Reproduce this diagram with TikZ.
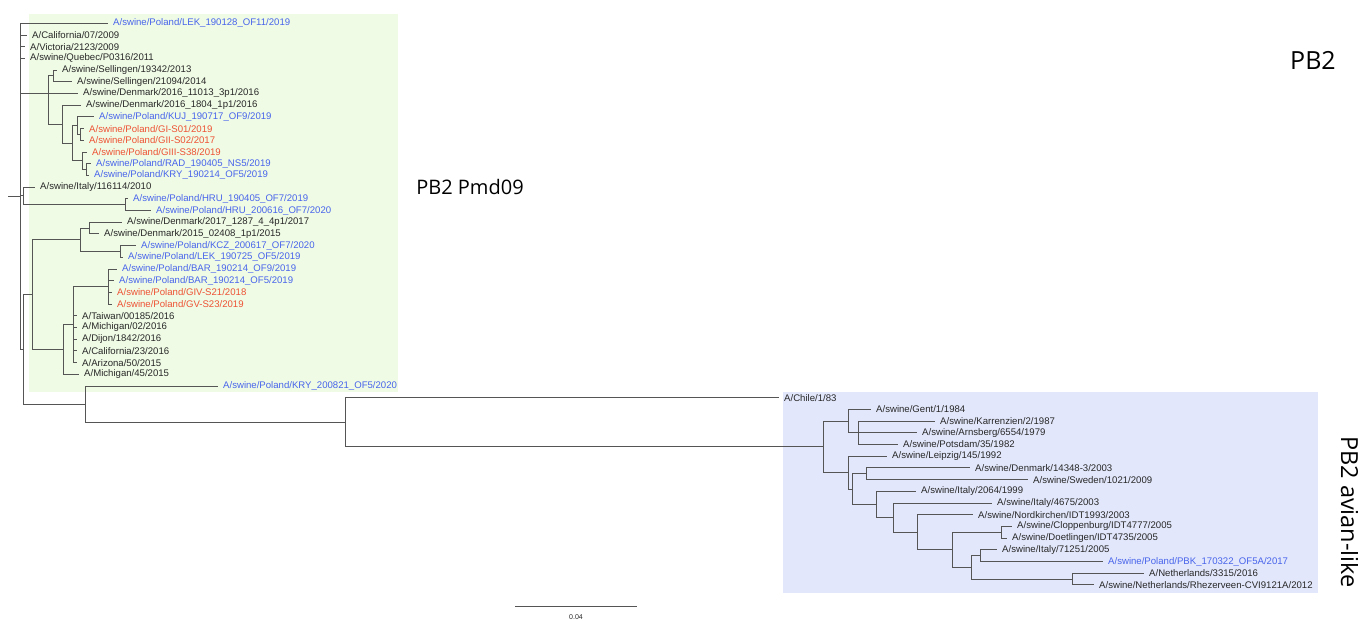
\documentclass[tikz,border=0pt]{standalone}
\usepackage{fontspec}
\setmainfont{Liberation Sans}
\newfontfamily\bigfont{Open Sans}
\definecolor{lgreen}{RGB}{239,251,229}
\definecolor{lblue}{RGB}{226,231,251}
\definecolor{tblue}{RGB}{72,100,235}
\definecolor{tred}{RGB}{238,82,52}
\definecolor{tline}{RGB}{85,85,85}
\definecolor{ttext}{RGB}{40,40,40}
\begin{document}
\begin{tikzpicture}[x=1pt,y=-1pt,
 leaf/.style={anchor=west, inner xsep=5pt, inner ysep=0pt, font=\fontsize{9.6}{10}\selectfont, text=ttext},
 pl/.style={leaf, text=tblue},
 rd/.style={leaf, text=tred},
 br/.style={draw=tline, line width=1pt},
 big/.style={font=\bigfont\fontsize{#1}{#1}\selectfont, text=black, inner sep=0pt}
]
\useasboundingbox (0,0) rectangle (1358,622);
\fill[lgreen] (29,14) rectangle (398,392);
\fill[lblue] (783,392) rectangle (1318,593);

% internal nodes
\coordinate (rs) at (8,196);
\coordinate (R) at (20,196);
\coordinate (C1) at (48,93.5);
\coordinate (S) at (53,75.95);
\coordinate (C2) at (62,124.2);
\coordinate (C3) at (72,143.2);
\coordinate (C4) at (77,125.7);
\coordinate (C6) at (80,134.45);
\coordinate (C5) at (82,160.8);
\coordinate (C7) at (86,169.55);
\coordinate (IH) at (23,195.9);
\coordinate (H) at (125,204.65);
\coordinate (Q) at (23,349.4);
\coordinate (D) at (32,294.6);
\coordinate (Dk) at (80,239.75);
\coordinate (DN) at (89,228.05);
\coordinate (KN) at (120,251.45);
\coordinate (M) at (63,349.4);
\coordinate (P) at (73,324.6);
\coordinate (B) at (108,286.5);
\coordinate (K) at (85,404.15);
\coordinate (A) at (345,422.3);
\coordinate (AV) at (823,446.9);
\coordinate (G1) at (848,421.1);
\coordinate (G1a) at (858,432.8);
\coordinate (G2) at (848,472.65);
\coordinate (G3) at (852,489.1);
\coordinate (DS) at (866,473.75);
\coordinate (G4) at (876,504.45);
\coordinate (G5) at (893.6,517.6);
\coordinate (G6) at (917.5,532.25);
\coordinate (G7) at (952,549.8);
\coordinate (CD) at (1001,532.25);
\coordinate (G8) at (971,567.35);
\coordinate (IP) at (980,555.65);
\coordinate (NR) at (1072,579.05);

% leaves
\node[pl] (l0) at (108,23.3) {A/swine/Poland/LEK\_190128\_OF11/2019};
\node[leaf] (l1) at (27,35.0) {A/California/07/2009};
\node[leaf] (l2) at (25,46.7) {A/Victoria/2123/2009};
\node[leaf] (l3) at (25,58.4) {A/swine/Quebec/P0316/2011};
\node[leaf] (l4) at (57,70.1) {A/swine/Sellingen/19342/2013};
\node[leaf] (l5) at (72,81.8) {A/swine/Sellingen/21094/2014};
\node[leaf] (l6) at (78,93.5) {A/swine/Denmark/2016\_11013\_3p1/2016};
\node[leaf] (l7) at (81,105.2) {A/swine/Denmark/2016\_1804\_1p1/2016};
\node[pl] (l8) at (94,116.9) {A/swine/Poland/KUJ\_190717\_OF9/2019};
\node[rd] (l9) at (84,128.6) {A/swine/Poland/GI-S01/2019};
\node[rd] (l10) at (84,140.3) {A/swine/Poland/GII-S02/2017};
\node[rd] (l11) at (87,152.0) {A/swine/Poland/GIII-S38/2019};
\node[pl] (l12) at (91,163.7) {A/swine/Poland/RAD\_190405\_NS5/2019};
\node[pl] (l13) at (89,175.4) {A/swine/Poland/KRY\_190214\_OF5/2019};
\node[leaf] (l14) at (35,187.1) {A/swine/Italy/116114/2010};
\node[pl] (l15) at (128,198.8) {A/swine/Poland/HRU\_190405\_OF7/2019};
\node[pl] (l16) at (151,210.5) {A/swine/Poland/HRU\_200616\_OF7/2020};
\node[leaf] (l17) at (122,222.2) {A/swine/Denmark/2017\_1287\_4\_4p1/2017};
\node[leaf] (l18) at (99,233.9) {A/swine/Denmark/2015\_02408\_1p1/2015};
\node[pl] (l19) at (136,245.6) {A/swine/Poland/KCZ\_200617\_OF7/2020};
\node[pl] (l20) at (123,257.3) {A/swine/Poland/LEK\_190725\_OF5/2019};
\node[pl] (l21) at (117,269.0) {A/swine/Poland/BAR\_190214\_OF9/2019};
\node[pl] (l22) at (114,280.7) {A/swine/Poland/BAR\_190214\_OF5/2019};
\node[rd] (l23) at (112,292.4) {A/swine/Poland/GIV-S21/2018};
\node[rd] (l24) at (112,304.1) {A/swine/Poland/GV-S23/2019};
\node[leaf] (l25) at (77,315.8) {A/Taiwan/00185/2016};
\node[leaf] (l26) at (77,327.5) {A/Michigan/02/2016};
\node[leaf] (l27) at (77,339.2) {A/Dijon/1842/2016};
\node[leaf] (l28) at (77,350.9) {A/California/23/2016};
\node[leaf] (l29) at (77,362.6) {A/Arizona/50/2015};
\node[leaf] (l30) at (79,374.3) {A/Michigan/45/2015};
\node[pl] (l31) at (218,386.0) {A/swine/Poland/KRY\_200821\_OF5/2020};
\node[leaf] (l32) at (779,397.7) {A/Chile/1/83};
\node[leaf] (l33) at (871,409.4) {A/swine/Gent/1/1984};
\node[leaf] (l34) at (935,421.1) {A/swine/Karrenzien/2/1987};
\node[leaf] (l35) at (917,432.8) {A/swine/Arnsberg/6554/1979};
\node[leaf] (l36) at (898,444.5) {A/swine/Potsdam/35/1982};
\node[leaf] (l37) at (887,456.2) {A/swine/Leipzig/145/1992};
\node[leaf] (l38) at (970,467.9) {A/swine/Denmark/14348-3/2003};
\node[leaf] (l39) at (1028,479.6) {A/swine/Sweden/1021/2009};
\node[leaf] (l40) at (916,491.3) {A/swine/Italy/2064/1999};
\node[leaf] (l41) at (992,503.0) {A/swine/Italy/4675/2003};
\node[leaf] (l42) at (973,514.7) {A/swine/Nordkirchen/IDT1993/2003};
\node[leaf] (l43) at (1012,526.4) {A/swine/Cloppenburg/IDT4777/2005};
\node[leaf] (l44) at (1007,538.1) {A/swine/Doetlingen/IDT4735/2005};
\node[leaf] (l45) at (997,549.8) {A/swine/Italy/71251/2005};
\node[pl] (l46) at (1103,561.5) {A/swine/Poland/PBK\_170322\_OF5A/2017};
\node[leaf] (l47) at (1144,573.2) {A/Netherlands/3315/2016};
\node[leaf] (l48) at (1094,584.9) {A/swine/Netherlands/Rhezerveen-CVI9121A/2012};

% branches
\draw[br] (rs) -- (R);
\foreach \c in {l0,l1,l2,l3,C1,IH,Q} \draw[br] (R) |- (\c);
\foreach \c in {S,l6,C2} \draw[br] (C1) |- (\c);
\foreach \c in {l4,l5} \draw[br] (S) |- (\c);
\foreach \c in {l7,C3} \draw[br] (C2) |- (\c);
\foreach \c in {C4,C5} \draw[br] (C3) |- (\c);
\foreach \c in {l8,C6} \draw[br] (C4) |- (\c);
\foreach \c in {l9,l10} \draw[br] (C6) |- (\c);
\foreach \c in {l11,C7} \draw[br] (C5) |- (\c);
\foreach \c in {l12,l13} \draw[br] (C7) |- (\c);
\foreach \c in {l14,H} \draw[br] (IH) |- (\c);
\foreach \c in {l15,l16} \draw[br] (H) |- (\c);
\foreach \c in {D,K} \draw[br] (Q) |- (\c);
\foreach \c in {Dk,M} \draw[br] (D) |- (\c);
\foreach \c in {DN,KN} \draw[br] (Dk) |- (\c);
\foreach \c in {l17,l18} \draw[br] (DN) |- (\c);
\foreach \c in {l19,l20} \draw[br] (KN) |- (\c);
\foreach \c in {P,l30} \draw[br] (M) |- (\c);
\foreach \c in {B,l25,l26,l27,l28,l29} \draw[br] (P) |- (\c);
\foreach \c in {l21,l22,l23,l24} \draw[br] (B) |- (\c);
\foreach \c in {l31,A} \draw[br] (K) |- (\c);
\foreach \c in {l32,AV} \draw[br] (A) |- (\c);
\foreach \c in {G1,G2} \draw[br] (AV) |- (\c);
\foreach \c in {l33,G1a} \draw[br] (G1) |- (\c);
\foreach \c in {l34,l35,l36} \draw[br] (G1a) |- (\c);
\foreach \c in {l37,G3} \draw[br] (G2) |- (\c);
\foreach \c in {DS,G4} \draw[br] (G3) |- (\c);
\foreach \c in {l38,l39} \draw[br] (DS) |- (\c);
\foreach \c in {l40,G5} \draw[br] (G4) |- (\c);
\foreach \c in {l41,G6} \draw[br] (G5) |- (\c);
\foreach \c in {l42,G7} \draw[br] (G6) |- (\c);
\foreach \c in {CD,G8} \draw[br] (G7) |- (\c);
\foreach \c in {l43,l44} \draw[br] (CD) |- (\c);
\foreach \c in {IP,NR} \draw[br] (G8) |- (\c);
\foreach \c in {l45,l46} \draw[br] (IP) |- (\c);
\foreach \c in {l47,l48} \draw[br] (NR) |- (\c);

% scale bar
\coordinate (sb1) at (515,606);
\coordinate (sb2) at (637,606);
\draw[br] (sb1) -- (sb2) node[midway, below=8pt, inner sep=0pt, font=\fontsize{7}{8}\selectfont, text=ttext] (sbl) {0.04};

% clade labels
\node[big=25] (t1) at (1313,60) {PB2};
\node[big=20] (t2) at (470,187) {PB2 Pmd09};
\node[big=23.5, rotate=-90] (t3) at (1350,512) {PB2 avian-like};
\end{tikzpicture}
\end{document}
